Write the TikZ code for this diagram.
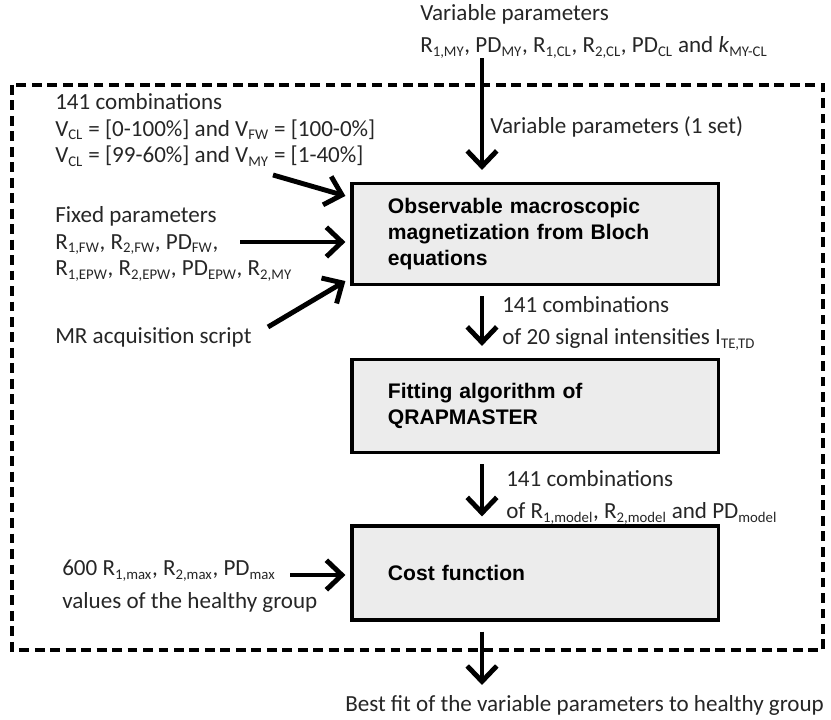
\documentclass[tikz,border=0pt]{standalone}
\usepackage{fontspec}
\setmainfont{Carlito}
\newfontfamily\boxfont{Liberation Sans}
\usetikzlibrary{arrows.meta}
\usetikzlibrary{calc}
\newcommand{\sbs}[1]{\textsubscript{\fontsize{10.5}{10.5}\selectfont #1}}

\begin{document}
\begin{tikzpicture}[x=0.025cm, y=-0.025cm,
    txt/.style={font=\fontsize{16.4}{19}\selectfont, text=black!85, align=left, inner sep=0pt, anchor=north west},
    stage/.style={draw, line width=2.2pt, fill=gray!15, minimum width=9.15cm, text width=7.35cm, inner xsep=0.9cm, align=left, font=\boxfont\bfseries\fontsize{15}{18.5}\selectfont},
    flow/.style={line width=3.5pt, -{Straight Barb[length=11pt,width=21pt]}},
    dashbox/.style={line width=2.2pt, dash pattern=on 7pt off 4pt}]
    \useasboundingbox (0,0) rectangle (831,720);
    \draw[dashbox] (12,85) rectangle (823,650);
    \coordinate (col) at (482,0);

    % processing stages
    \node[stage, minimum height=2.525cm] (bloch) at (535,234) {Observable macroscopic\\magnetization from Bloch\\equations};
    \node[stage, minimum height=2.325cm] (fit) at (535,406) {Fitting algorithm of\\QRAPMASTER};
    \node[stage, minimum height=2.35cm] (cost) at (535,573) {Cost function};

    % inputs and outputs
    \node[txt] (varpar) at (420,4) {Variable parameters\\[4pt]R\sbs{1,MY}, PD\sbs{MY}, R\sbs{1,CL}, R\sbs{2,CL}, PD\sbs{CL} and \textit{k}\sbs{MY-CL}};
    \node[txt, anchor=west] (oneset) at (490,127) {Variable parameters (1 set)};
    \node[txt] (comb) at (55,93) {141 combinations\\V\sbs{CL} = [0-100\%] and V\sbs{FW} = [100-0\%]\\V\sbs{CL} = [99-60\%] and V\sbs{MY} = [1-40\%]};
    \node[txt] (fixed) at (55,206) {Fixed parameters\\R\sbs{1,FW}, R\sbs{2,FW}, PD\sbs{FW},\\R\sbs{1,EPW}, R\sbs{2,EPW}, PD\sbs{EPW}, R\sbs{2,MY}};
    \node[txt] (mr) at (55,327) {MR acquisition script};
    \node[txt] (sig) at (502,296) {141 combinations\\[4pt]of 20 signal intensities I\sbs{TE,TD}};
    \node[txt] (par) at (506,470) {141 combinations\\[4pt]of R\sbs{1,model}, R\sbs{2,model} and PD\sbs{model}};
    \node[txt] (healthy) at (62,560) {600 R\sbs{1,max}, R\sbs{2,max}, PD\sbs{max}\\[4pt]values of the healthy group};
    \node[txt] (best) at (345,695) {Best fit of the variable parameters to healthy group};

    % free ends of the input arrows
    \coordinate (in1) at (273,175);
    \coordinate (in2) at (240,242);
    \coordinate (in3) at (268,327);
    \coordinate (in4) at (290,575);

    \draw[flow, shorten >=0.3cm] (varpar.south -| col) -- (bloch.north -| col);
    \draw[flow] (in1) -- ($(bloch.north west)+(-5,14)$);
    \draw[flow] (in2) -- ($(bloch.west)+(-5,8)$);
    \draw[flow] (in3) -- ($(bloch.south west)+(-5,-5)$);
    \draw[flow, shorten <=0.25cm, shorten >=0.3cm] (bloch.south -| col) -- (fit.north -| col);
    \draw[flow, shorten <=0.25cm, shorten >=0.2cm] (fit.south -| col) -- (cost.north -| col);
    \draw[flow] (in4) -- ($(cost.west)+(-5,2)$);
    \draw[flow, shorten <=0.25cm, shorten >=0.25cm] (cost.south -| col) -- (best.north -| col);
\end{tikzpicture}
\end{document}
